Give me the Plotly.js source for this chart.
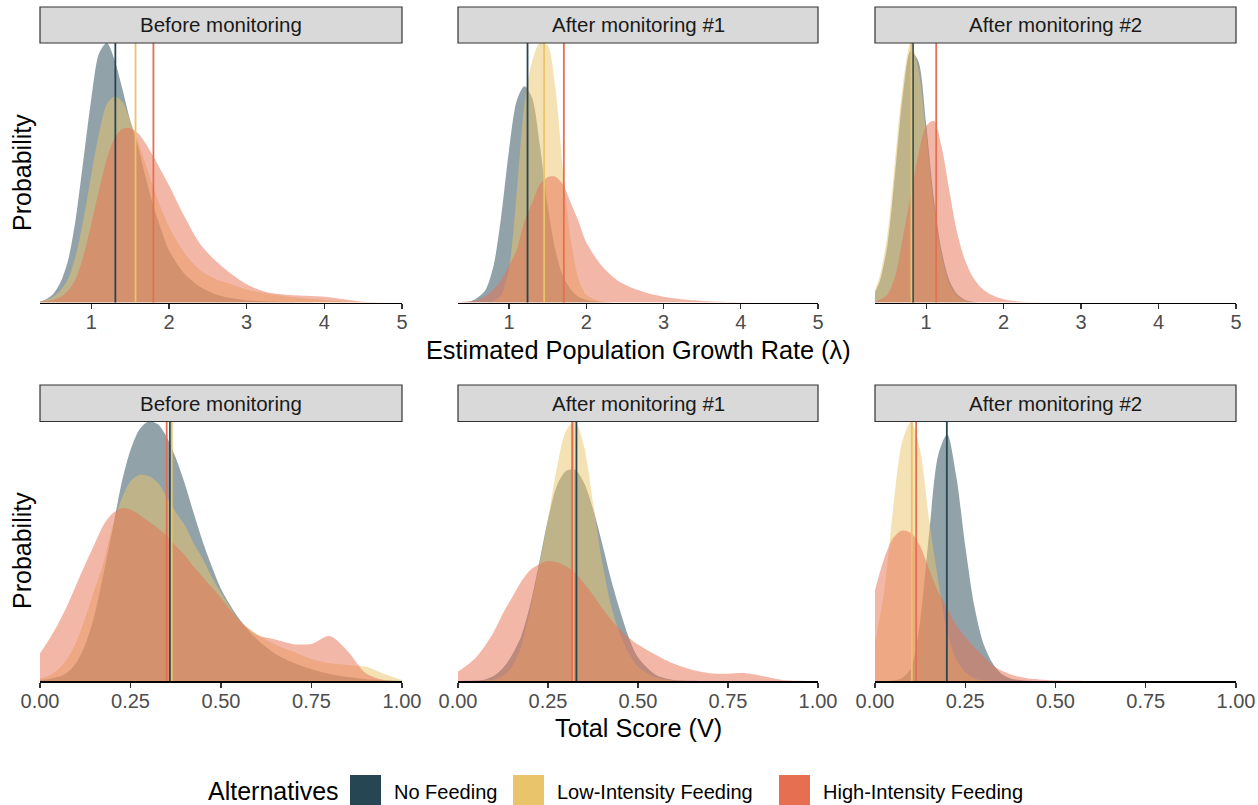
<!DOCTYPE html>
<html>
<head>
<meta charset="utf-8">
<script src="https://cdn.plot.ly/plotly-3.0.1.min.js"></script>
<style>
  html, body { margin: 0; padding: 0; background: #ffffff; }
  #chart { width: 1258px; height: 805px; }
</style>
</head>
<body>
<div id="chart"></div>
<script>
// ---- Facets and alternatives ----
const stageNames = ['Before monitoring', 'After monitoring #1', 'After monitoring #2'];
const alternatives = ['No Feeding', 'Low-Intensity Feeding', 'High-Intensity Feeding'];

// ---- Posterior densities of the population growth rate (relative density) ----
const lambdaGrid = [0.34, 0.4, 0.5, 0.6, 0.7, 0.8, 0.9, 1.0, 1.1, 1.2, 1.3, 1.4, 1.5, 1.6, 1.7, 1.8, 1.9, 2.0,
                    2.2, 2.4, 2.6, 2.8, 3.0, 3.25, 3.5, 3.75, 4.0, 4.25, 4.5, 5.0];

const lambdaBeforeNoFeeding = [0.005, 0.01, 0.03, 0.075, 0.16, 0.32, 0.55, 0.78, 0.955, 0.995, 0.93, 0.82, 0.70, 0.60, 0.48, 0.37, 0.28, 0.20,
                               0.11, 0.06, 0.032, 0.017, 0.009, 0.004, 0.002, 0.001, 0, 0, 0, 0];
const lambdaBeforeLow       = [0.004, 0.008, 0.02, 0.045, 0.09, 0.18, 0.32, 0.49, 0.65, 0.76, 0.79, 0.77, 0.70, 0.62, 0.53, 0.44, 0.36, 0.29,
                               0.19, 0.125, 0.09, 0.07, 0.05, 0.035, 0.024, 0.016, 0.01, 0.005, 0.002, 0];
const lambdaBeforeHigh      = [0.003, 0.005, 0.01, 0.02, 0.045, 0.09, 0.18, 0.30, 0.43, 0.55, 0.63, 0.665, 0.668, 0.65, 0.61, 0.56, 0.505, 0.45,
                               0.33, 0.225, 0.16, 0.11, 0.07, 0.04, 0.03, 0.026, 0.022, 0.012, 0.003, 0];

const lambdaAfter1NoFeeding = [0, 0.001, 0.004, 0.02, 0.05, 0.14, 0.33, 0.58, 0.77, 0.825, 0.78, 0.60, 0.37, 0.20, 0.10, 0.05, 0.022, 0.01,
                               0.002, 0, 0, 0, 0, 0, 0, 0, 0, 0, 0, 0];
const lambdaAfter1Low       = [0, 0, 0, 0, 0.001, 0.006, 0.03, 0.13, 0.42, 0.76, 0.92, 0.99, 0.98, 0.82, 0.50, 0.24, 0.09, 0.03,
                               0.004, 0, 0, 0, 0, 0, 0, 0, 0, 0, 0, 0];
const lambdaAfter1High      = [0.001, 0.003, 0.006, 0.01, 0.025, 0.05, 0.085, 0.14, 0.20, 0.31, 0.38, 0.45, 0.478, 0.48, 0.45, 0.38, 0.31, 0.23,
                               0.14, 0.085, 0.055, 0.035, 0.022, 0.012, 0.006, 0.003, 0.001, 0, 0, 0];

const lambdaAfter2NoFeeding = [0.04, 0.08, 0.22, 0.50, 0.80, 0.97, 0.93, 0.69, 0.40, 0.20, 0.085, 0.032, 0.011, 0.003, 0, 0, 0, 0,
                               0, 0, 0, 0, 0, 0, 0, 0, 0, 0, 0, 0];
const lambdaAfter2Low       = [0.05, 0.10, 0.26, 0.55, 0.84, 1.0, 0.90, 0.65, 0.37, 0.18, 0.07, 0.025, 0.008, 0.002, 0, 0, 0, 0,
                               0, 0, 0, 0, 0, 0, 0, 0, 0, 0, 0, 0];
const lambdaAfter2High      = [0.003, 0.01, 0.03, 0.10, 0.25, 0.41, 0.57, 0.68, 0.70, 0.60, 0.43, 0.27, 0.165, 0.10, 0.06, 0.037, 0.022, 0.013,
                               0.004, 0.001, 0, 0, 0, 0, 0, 0, 0, 0, 0, 0];

// ---- Posterior densities of the total score V (relative density) ----
const scoreGrid = [0, 0.025, 0.05, 0.075, 0.1, 0.125, 0.15, 0.175, 0.2, 0.225, 0.25, 0.275, 0.3, 0.325, 0.35, 0.375, 0.4, 0.425, 0.45, 0.475, 0.5,
                   0.55, 0.6, 0.65, 0.7, 0.75, 0.8, 0.85, 0.9, 0.95, 1.0];

const scoreBeforeNoFeeding = [0.004, 0.008, 0.016, 0.032, 0.07, 0.14, 0.25, 0.41, 0.58, 0.76, 0.89, 0.97, 1.0, 0.99, 0.94, 0.86, 0.76, 0.645, 0.535, 0.44, 0.355,
                              0.24, 0.16, 0.105, 0.07, 0.045, 0.027, 0.015, 0.007, 0.003, 0.001];
const scoreBeforeLow       = [0.01, 0.02, 0.045, 0.085, 0.15, 0.245, 0.35, 0.455, 0.595, 0.70, 0.77, 0.795, 0.79, 0.765, 0.71, 0.65, 0.60, 0.53, 0.47, 0.40, 0.34,
                              0.235, 0.18, 0.14, 0.113, 0.085, 0.068, 0.062, 0.055, 0.028, 0.004];
const scoreBeforeHigh      = [0.107, 0.16, 0.22, 0.29, 0.37, 0.45, 0.525, 0.60, 0.645, 0.666, 0.66, 0.64, 0.615, 0.59, 0.56, 0.52, 0.485, 0.44, 0.40, 0.36, 0.32,
                              0.235, 0.177, 0.16, 0.142, 0.143, 0.173, 0.115, 0.03, 0.004, 0];

const scoreAfter1NoFeeding = [0, 0.001, 0.002, 0.006, 0.02, 0.05, 0.10, 0.17, 0.29, 0.45, 0.62, 0.75, 0.805, 0.81, 0.76, 0.66, 0.53, 0.39, 0.27, 0.165, 0.09,
                              0.023, 0.004, 0.001, 0, 0, 0, 0, 0, 0, 0];
const scoreAfter1Low       = [0, 0, 0, 0.002, 0.006, 0.02, 0.055, 0.13, 0.27, 0.44, 0.62, 0.82, 0.96, 0.995, 0.90, 0.685, 0.46, 0.29, 0.18, 0.105, 0.055,
                              0.013, 0.002, 0, 0, 0, 0, 0, 0, 0, 0];
const scoreAfter1High      = [0.036, 0.06, 0.09, 0.135, 0.19, 0.26, 0.32, 0.38, 0.425, 0.448, 0.46, 0.455, 0.44, 0.415, 0.375, 0.33, 0.28, 0.235, 0.197, 0.165, 0.14,
                              0.10, 0.066, 0.043, 0.03, 0.028, 0.03, 0.018, 0.004, 0.001, 0];

const scoreAfter2NoFeeding = [0, 0, 0.002, 0.012, 0.05, 0.23, 0.57, 0.87, 0.95, 0.79, 0.52, 0.29, 0.145, 0.07, 0.028, 0.01, 0.004, 0.001, 0, 0, 0,
                              0, 0, 0, 0, 0, 0, 0, 0, 0, 0];
const scoreAfter2Low       = [0.15, 0.34, 0.66, 0.92, 1.0, 0.89, 0.62, 0.39, 0.19, 0.085, 0.035, 0.01, 0.003, 0.001, 0, 0, 0, 0, 0, 0, 0,
                              0, 0, 0, 0, 0, 0, 0, 0, 0, 0];
const scoreAfter2High      = [0.35, 0.47, 0.55, 0.58, 0.57, 0.52, 0.43, 0.345, 0.28, 0.215, 0.17, 0.13, 0.095, 0.062, 0.04, 0.026, 0.016, 0.01, 0.007, 0.004, 0.002,
                              0.001, 0, 0, 0, 0, 0, 0, 0, 0, 0];

// ---- Posterior means (vertical reference lines), one value per stage ----
const lambdaMeanNoFeeding = [1.31, 1.24, 0.83];
const lambdaMeanLow       = [1.57, 1.455, 0.81];
const lambdaMeanHigh      = [1.80, 1.71, 1.13];
const scoreMeanNoFeeding  = [0.359, 0.329, 0.199];
const scoreMeanLow        = [0.364, 0.320, 0.102];
const scoreMeanHigh       = [0.350, 0.317, 0.114];

// ---- Axis ticks ----
const lambdaTicks = [1, 2, 3, 4, 5];
const scoreTicks = [0, 0.25, 0.5, 0.75, 1.0];
const scoreTickText = ['0.00', '0.25', '0.50', '0.75', '1.00'];

// ---- Styling ----
const lineColors = ['#264653', '#E9C46A', '#E76F51'];
const fillColors = ['rgba(38,70,83,0.5)', 'rgba(233,196,106,0.5)', 'rgba(231,111,81,0.5)'];
const FONT = 'Liberation Sans, Arial, Helvetica, sans-serif';

const W = 1258, H = 805;
const px = x => x / W;
const py = y => 1 - y / H;

const colLeft = [40, 458, 875];
const colRight = [402, 818, 1236];
const rows = [
  { stripTop: 7, plotTop: 43, plotBottom: 302.5, grid: lambdaGrid, range: [0.34, 5],
    series: [[lambdaBeforeNoFeeding, lambdaBeforeLow, lambdaBeforeHigh],
             [lambdaAfter1NoFeeding, lambdaAfter1Low, lambdaAfter1High],
             [lambdaAfter2NoFeeding, lambdaAfter2Low, lambdaAfter2High]],
    means: [lambdaMeanNoFeeding, lambdaMeanLow, lambdaMeanHigh],
    tickvals: lambdaTicks, ticktext: lambdaTicks.map(String),
    title: 'Estimated Population Growth Rate (λ)', titleY: 350, ylabelY: 173 },
  { stripTop: 385, plotTop: 421.5, plotBottom: 681, grid: scoreGrid, range: [0, 1],
    series: [[scoreBeforeNoFeeding, scoreBeforeLow, scoreBeforeHigh],
             [scoreAfter1NoFeeding, scoreAfter1Low, scoreAfter1High],
             [scoreAfter2NoFeeding, scoreAfter2Low, scoreAfter2High]],
    means: [scoreMeanNoFeeding, scoreMeanLow, scoreMeanHigh],
    tickvals: scoreTicks, ticktext: scoreTickText,
    title: 'Total Score (V)', titleY: 728, ylabelY: 551 }
];

const traces = [];
const shapes = [];
const annotations = [];
const layout = {
  width: W, height: H,
  margin: { l: 0, r: 0, t: 0, b: 0 },
  paper_bgcolor: '#ffffff', plot_bgcolor: '#ffffff',
  showlegend: false,
  font: { family: FONT, color: '#000000' }
};

let k = 0;
rows.forEach((row, r) => {
  for (let c = 0; c < 3; c++) {
    k += 1;
    const xName = k === 1 ? 'x' : 'x' + k;
    const yName = k === 1 ? 'y' : 'y' + k;
    const xKey = k === 1 ? 'xaxis' : 'xaxis' + k;
    const yKey = k === 1 ? 'yaxis' : 'yaxis' + k;
    const panelSeries = row.series[c];
    const yMax = Math.max(...panelSeries.map(s => Math.max(...s)));

    layout[xKey] = {
      domain: [px(colLeft[c]), px(colRight[c])],
      anchor: yName, range: row.range, fixedrange: true,
      showgrid: false, zeroline: false,
      showline: true, linecolor: '#000000', linewidth: 1.6,
      ticks: 'outside', ticklen: 5, tickwidth: 1.2, tickcolor: '#333333',
      ticklabelstandoff: -4,
      tickvals: row.tickvals, ticktext: row.ticktext,
      tickfont: { family: FONT, size: 20, color: '#4d4d4d' }
    };
    layout[yKey] = {
      domain: [py(row.plotBottom), py(row.plotTop)],
      anchor: xName, range: [0, yMax], fixedrange: true,
      showgrid: false, zeroline: false, showline: false,
      showticklabels: false, ticks: ''
    };

    // filled density curves
    panelSeries.forEach((vals, s) => {
      traces.push({
        type: 'scatter', mode: 'lines',
        x: row.grid, y: vals,
        xaxis: xName, yaxis: yName,
        name: alternatives[s],
        line: { width: 0, shape: 'spline', smoothing: 0.8, color: lineColors[s] },
        fill: 'tozeroy', fillcolor: fillColors[s],
        hoverinfo: 'skip'
      });
    });

    // posterior mean lines
    row.means.forEach((meanArr, s) => {
      shapes.push({
        type: 'line', xref: xName, yref: yName + ' domain',
        x0: meanArr[c], x1: meanArr[c], y0: 0, y1: 1,
        line: { color: lineColors[s], width: 1.8 }, layer: 'above'
      });
    });

    // facet strip
    shapes.push({
      type: 'rect', xref: 'paper', yref: 'paper',
      x0: px(colLeft[c]), x1: px(colRight[c]),
      y0: py(row.plotTop), y1: py(row.stripTop),
      fillcolor: '#d9d9d9', line: { color: '#333333', width: 1.2 }, layer: 'above'
    });
    annotations.push({
      xref: 'paper', yref: 'paper',
      x: px((colLeft[c] + colRight[c]) / 2), y: py((row.stripTop + row.plotTop) / 2),
      xanchor: 'center', yanchor: 'middle', showarrow: false,
      text: stageNames[c], font: { family: FONT, size: 20.5, color: '#1a1a1a' }
    });
  }

  // shared axis titles
  annotations.push({
    xref: 'paper', yref: 'paper', x: px((colLeft[0] + colRight[2]) / 2), y: py(row.titleY),
    xanchor: 'center', yanchor: 'middle', showarrow: false,
    text: row.title, font: { family: FONT, size: 25.3, color: '#000000' }
  });
  annotations.push({
    xref: 'paper', yref: 'paper', x: px(22), y: py(row.ylabelY),
    xanchor: 'center', yanchor: 'middle', showarrow: false, textangle: -90,
    text: 'Probability', font: { family: FONT, size: 25, color: '#000000' }
  });
});

// ---- Legend ----
const legendY = 791;
annotations.push({
  xref: 'paper', yref: 'paper', x: px(206), y: py(legendY),
  xanchor: 'left', yanchor: 'middle', showarrow: false,
  text: 'Alternatives', font: { family: FONT, size: 25, color: '#000000' }
});
const keyLeft = [350, 513, 779];
alternatives.forEach((name, s) => {
  shapes.push({
    type: 'rect', xref: 'paper', yref: 'paper',
    x0: px(keyLeft[s]), x1: px(keyLeft[s] + 31),
    y0: py(806), y1: py(775),
    fillcolor: lineColors[s], line: { width: 0 }
  });
  annotations.push({
    xref: 'paper', yref: 'paper', x: px(keyLeft[s] + 42), y: py(legendY + 1),
    xanchor: 'left', yanchor: 'middle', showarrow: false,
    text: name, font: { family: FONT, size: 20, color: '#000000' }
  });
});

layout.shapes = shapes;
layout.annotations = annotations;

Plotly.newPlot('chart', traces, layout, { displayModeBar: false, staticPlot: true });
</script>
</body>
</html>
